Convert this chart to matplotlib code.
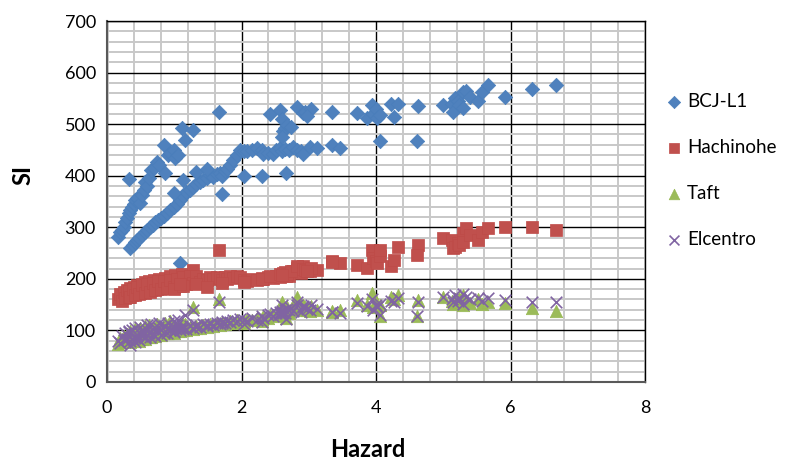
import matplotlib
matplotlib.use("Agg")
import matplotlib.pyplot as plt
from matplotlib.ticker import MultipleLocator

# hazard value of each record (shared by the four ground motions)
hazard = [
    0.17, 0.19, 0.22, 0.25, 0.27, 0.30, 0.32, 0.34, 0.37, 0.40, 0.42, 0.45, 0.49, 0.52, 0.55, 0.57, 0.60,
    0.63, 0.66, 0.70, 0.74, 0.78, 0.84, 0.86, 0.90, 0.94, 0.99, 1.01, 1.05, 1.11, 1.16, 1.28, 0.32,
    0.34, 0.38, 0.42, 0.44, 0.48, 0.52, 0.56, 0.60, 0.64, 0.68, 0.72, 0.76, 0.80, 0.84, 0.89, 0.94, 0.99,
    1.04, 1.09, 1.13, 1.18, 1.23, 1.28, 1.33, 1.38, 1.43, 1.48, 1.53, 1.58, 1.63, 1.68, 1.71, 1.75, 1.78,
    1.83, 1.88, 1.93, 1.98, 0.99, 1.13, 1.33, 1.48, 1.71, 1.09, 1.67,
    2.03, 2.08, 2.15, 2.23, 2.30, 2.32, 2.40, 2.47, 2.52, 2.57, 2.60, 2.65, 2.70, 2.77, 2.82, 2.88, 2.92,
    3.02, 3.12, 3.34, 3.46, 2.03, 2.30, 2.66,
    2.42, 2.57, 2.60, 2.62, 2.65, 2.67, 2.74, 2.60, 2.82, 2.92, 2.94, 3.04, 2.97, 3.34,
    3.71, 3.86, 3.94, 3.95, 4.00, 4.02, 4.06, 4.23, 4.33, 4.26, 4.06, 4.63, 4.61,
    5.00, 5.13, 5.15, 5.17, 5.22, 5.24, 5.30, 5.30, 5.34, 5.40, 5.52, 5.57, 5.67, 5.92, 6.32, 6.67,
]

si_bcj = [
    282, 290, 295, 300, 311, 318, 328, 334, 340, 345, 353, 356, 347, 362, 372, 388, 380,
    395, 411, 415, 427, 420, 460, 405, 440, 444, 450, 434, 440, 492, 469, 489, 394,
    259, 265, 272, 275, 280, 285, 290, 294, 301, 305, 310, 314, 318, 322, 328, 333, 340,
    345, 353, 360, 369, 372, 379, 384, 388, 392, 396, 401, 398, 403, 405, 400, 410, 414,
    420, 430, 440, 450, 367, 392, 408, 414, 364, 230, 524,
    447, 447, 450, 453, 450, 443, 445, 443, 450, 453, 448, 452, 450, 456, 450, 447, 443,
    455, 453, 460, 453, 400, 400, 405,
    520, 527, 510, 487, 492, 498, 495, 476, 534, 521, 524, 529, 515, 524,
    522, 511, 537, 520, 530, 512, 518, 540, 540, 514, 467, 535, 467,
    537, 540, 524, 550, 545, 538, 563, 531, 565, 553, 544, 563, 576, 553, 569, 576,
]

si_hachinohe = [
    160, 170, 158, 175, 162, 178, 165, 182, 168, 185, 170, 188, 172, 190, 174, 193, 176,
    195, 178, 198, 180, 200, 183, 202, 186, 205, 188, 208, 190, 210, 192, 218, 176,
    165, 180, 168, 185, 170, 188, 172, 190, 175, 192, 178, 195, 180, 196, 183, 198, 185,
    200, 187, 203, 190, 205, 192, 206, 194, 200, 198, 204, 199, 203, 201, 197, 204, 200,
    206, 202, 205, 203, 180, 186, 190, 185, 192, 190, 256,
    198, 196, 200, 198, 202, 200, 204, 202, 206, 204, 208, 210, 206, 215, 222, 212, 225,
    216, 218, 235, 230, 194, 200, 205,
    206, 210, 208, 212, 214, 210, 216, 208, 225, 220, 218, 222, 215, 232,
    227, 221, 256, 240, 235, 230, 244, 224, 262, 237, 256, 266, 246,
    279, 276, 260, 262, 270, 265, 288, 272, 298, 285, 275, 291, 298, 301, 301, 295,
]

si_taft = [
    74, 85, 78, 90, 80, 94, 83, 98, 86, 80, 102, 88, 105, 84, 92, 108, 90,
    110, 88, 100, 112, 94, 102, 115, 95, 118, 100, 106, 98, 110, 112, 145, 92,
    78, 88, 82, 95, 80, 99, 84, 102, 88, 105, 90, 108, 92, 100, 95, 110, 98,
    104, 99, 112, 100, 106, 102, 108, 104, 110, 106, 112, 108, 114, 110, 116, 112, 115,
    118, 114, 120, 116, 95, 100, 104, 108, 112, 100, 160,
    118, 122, 120, 125, 122, 128, 125, 130, 127, 135, 130, 138, 134, 145, 165, 140, 150,
    137, 140, 135, 140, 115, 118, 125,
    130, 135, 140, 132, 138, 145, 142, 155, 160, 150, 145, 148, 140, 138,
    159, 150, 172, 145, 155, 148, 150, 165, 169, 160, 127, 159, 127,
    165, 158, 152, 160, 155, 162, 168, 150, 158, 154, 160, 152, 156, 153, 143, 137,
]

si_elcentro = [
    80, 76, 90, 82, 95, 84, 98, 80, 100, 87, 104, 85, 106, 90, 96, 88, 110,
    95, 112, 92, 100, 114, 95, 108, 115, 100, 118, 105, 120, 108, 130, 140, 96,
    72, 84, 78, 92, 82, 96, 85, 100, 87, 103, 90, 106, 92, 109, 95, 100, 97,
    110, 100, 105, 102, 108, 104, 110, 106, 112, 108, 113, 110, 115, 112, 117, 114, 119,
    116, 121, 118, 123, 98, 103, 106, 110, 114, 104, 155,
    120, 118, 124, 121, 127, 125, 130, 128, 133, 131, 136, 134, 140, 138, 150, 136, 145,
    140, 142, 136, 133, 112, 116, 122,
    132, 136, 138, 134, 140, 142, 144, 150, 155, 148, 146, 150, 142, 135,
    153, 148, 160, 140, 150, 145, 152, 158, 162, 155, 130, 155, 127,
    165, 160, 155, 168, 158, 163, 170, 152, 165, 160, 162, 158, 162, 159, 155, 155,
]

plt.rcParams['font.family'] = ['Lato', 'DejaVu Sans']

fig = plt.figure(figsize=(7.87, 4.61), dpi=100)
ax = fig.add_axes([0.136, 0.1714, 0.6836, 0.783])

ax.scatter(hazard, si_bcj, marker='D', s=54, color='#4F81BD', edgecolors='#4A7EBB',
           linewidths=0.5, label='BCJ-L1', zorder=3)
ax.scatter(hazard, si_hachinohe, marker='s', s=84, color='#C0504D', edgecolors='#BE4B48',
           linewidths=0.5, label='Hachinohe', zorder=3)
ax.scatter(hazard, si_taft, marker='^', s=80, color='#9BBB59', edgecolors='#98B954',
           linewidths=0.5, label='Taft', zorder=3)
ax.scatter(hazard, si_elcentro, marker='x', s=70, color='#8064A2', linewidths=1.2,
           label='Elcentro', zorder=4)

ax.set_xlim(0, 8)
ax.set_ylim(0, 700)
ax.xaxis.set_major_locator(MultipleLocator(2))
ax.xaxis.set_minor_locator(MultipleLocator(0.4))
ax.yaxis.set_major_locator(MultipleLocator(100))
ax.yaxis.set_minor_locator(MultipleLocator(20))
ax.grid(which='minor', color='#c8c8c8', linewidth=1.4, zorder=0)
ax.grid(which='major', color='black', linewidth=1.0, zorder=1)
ax.set_axisbelow(True)
ax.tick_params(which='both', length=0, labelsize=13)
ax.tick_params(axis='y', pad=8)
ax.tick_params(axis='x', pad=13)

for side in ['top', 'right']:
    ax.spines[side].set_color('black')
    ax.spines[side].set_linewidth(1.0)
for side in ['left', 'bottom']:
    ax.spines[side].set_color('#595959')
    ax.spines[side].set_linewidth(1.5)

ax.set_xlabel('Hazard', fontsize=17, fontweight='bold')
ax.set_ylabel('SI', fontsize=17, fontweight='bold')
ax.xaxis.set_label_coords(0.485, -0.155)
ax.yaxis.set_label_coords(-0.135, 0.573)

fig.legend(loc='center left', bbox_to_anchor=(0.848, 0.631), frameon=False, fontsize=13.5,
           labelspacing=1.55, handlelength=0.7, handletextpad=0.35, borderpad=0,
           borderaxespad=0, scatterpoints=1, markerscale=0.85)

fig.savefig('out.png', dpi=100)
